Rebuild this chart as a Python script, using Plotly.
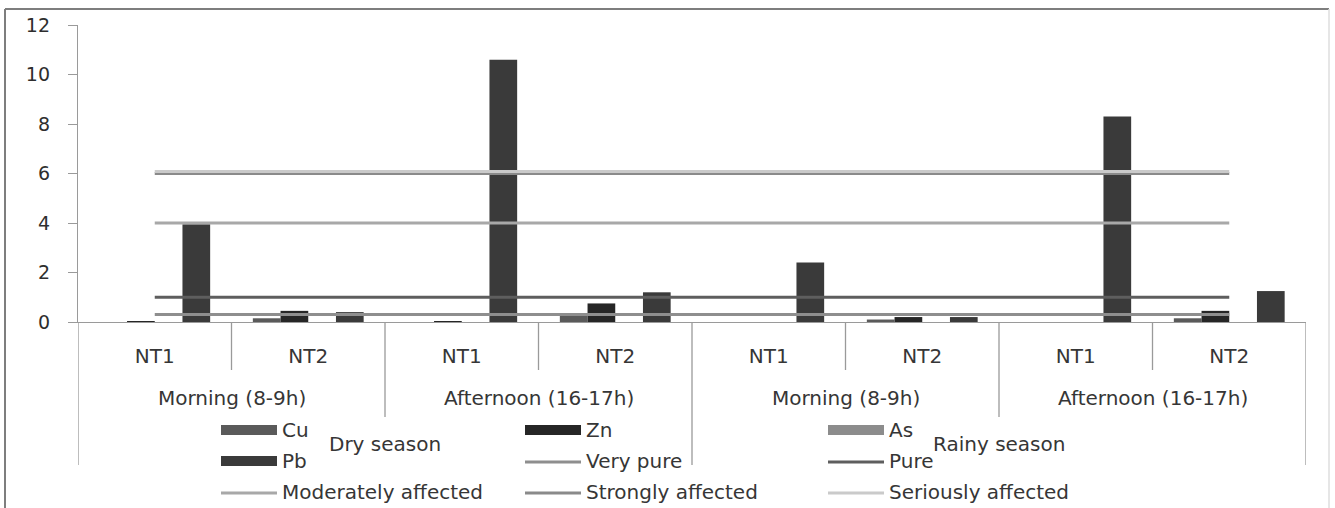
import plotly.graph_objects as go

# ---- data -------------------------------------------------------------
sites = ["NT1", "NT2", "NT1", "NT2", "NT1", "NT2", "NT1", "NT2"]
periods = ["Morning (8-9h)", "Afternoon (16-17h)", "Morning (8-9h)", "Afternoon (16-17h)"]
seasons = ["Dry season", "Rainy season"]

metals = ["Cu", "Zn", "As", "Pb"]
cu = [0.0, 0.15, 0.0, 0.30, 0.0, 0.10, 0.0, 0.15]
zn = [0.03, 0.45, 0.03, 0.75, 0.0, 0.20, 0.0, 0.45]
as_ = [0.0, 0.0, 0.0, 0.0, 0.0, 0.0, 0.0, 0.0]
pb = [3.95, 0.40, 10.6, 1.20, 2.40, 0.20, 8.30, 1.25]

levels = ["Very pure", "Pure", "Moderately affected", "Strongly affected", "Seriously affected"]
level_values = [0.3, 1.0, 4.0, 6.0, 6.08]

y_ticks = [0, 2, 4, 6, 8, 10, 12]

# ---- style ------------------------------------------------------------
W, H = 1335, 508
ML, MR, MT, MB = 78, 29, 25, 186
PW, PH = W - ML - MR, H - MT - MB
FONT = "DejaVu Sans"
TXT = "#363636"
AXC = "#9a9a9a"
FS = 20

bar_colors = ["#5a5a5a", "#262626", "#8c8c8c", "#3a3a3a"]
line_colors = ["#8e8e8e", "#5e5e5e", "#a8a8a8", "#8a8a8a", "#cacaca"]


def px_x(px):
    return (px - ML) / PW


def px_y(py):
    return (H - MB - py) / PH


x_idx = list(range(len(sites)))

fig = go.Figure()

for name, vals, col in zip(metals, [cu, zn, as_, pb], bar_colors):
    fig.add_trace(go.Bar(x=x_idx, y=vals, name=name, marker=dict(color=col, line_width=0)))

for name, val, col in zip(levels, level_values, line_colors):
    fig.add_trace(go.Scatter(x=x_idx, y=[val] * len(x_idx), name=name, mode="lines",
                             line=dict(color=col, width=3)))

shapes = []
annotations = []

# outer chart frame: darker top/left edges, faint right edge
shapes.append(dict(type="line", xref="paper", yref="paper",
                   x0=px_x(5), x1=px_x(1329), y0=px_y(9), y1=px_y(9),
                   line=dict(color="#7e7e7e", width=2)))
shapes.append(dict(type="line", xref="paper", yref="paper",
                   x0=px_x(5), x1=px_x(5), y0=px_y(9), y1=px_y(512),
                   line=dict(color="#7e7e7e", width=2)))
shapes.append(dict(type="line", xref="paper", yref="paper",
                   x0=px_x(1329), x1=px_x(1329), y0=px_y(9), y1=px_y(512),
                   line=dict(color="#dedede", width=1.5)))

# category dividers of the three-level axis (site / period / season)
n = len(sites)
for k in range(n + 1):
    xb = k - 0.5
    if k % 4 == 0:
        bottom = 465
    elif k % 2 == 0:
        bottom = 417
    else:
        bottom = 370
    shapes.append(dict(type="line", xref="x", yref="paper", x0=xb, x1=xb,
                       y0=px_y(bottom), y1=0, line=dict(color=AXC, width=1.3)))

# period labels
for j, p in enumerate(periods):
    annotations.append(dict(x=2 * j + 0.5, y=px_y(398), xref="x", yref="paper",
                            text=p, showarrow=False, xanchor="center", yanchor="middle",
                            font=dict(family=FONT, size=FS, color=TXT)))

# season labels
for j, s in enumerate(seasons):
    annotations.append(dict(x=4 * j + 1.5, y=px_y(444), xref="x", yref="paper",
                            text=s, showarrow=False, xanchor="center", yanchor="middle",
                            font=dict(family=FONT, size=FS, color=TXT)))

# legend: three columns, bars as wide blocks, levels as line swatches
entries = [(m, c, "bar") for m, c in zip(metals, bar_colors)] + \
          [(l, c, "line") for l, c in zip(levels, line_colors)]
col_x = [221, 525, 828]
row_y = [430, 461, 492]
sw = 56
for i, (name, col, kind) in enumerate(entries):
    cx = col_x[i % 3]
    ry = row_y[i // 3]
    if kind == "bar":
        shapes.append(dict(type="rect", xref="paper", yref="paper",
                           x0=px_x(cx), x1=px_x(cx + sw), y0=px_y(ry + 5), y1=px_y(ry - 5),
                           fillcolor=col, line_width=0))
    else:
        shapes.append(dict(type="line", xref="paper", yref="paper",
                           x0=px_x(cx), x1=px_x(cx + sw), y0=px_y(ry + 1), y1=px_y(ry + 1),
                           line=dict(color=col, width=3)))
    annotations.append(dict(x=px_x(cx + sw + 3), y=px_y(ry), xref="paper", yref="paper",
                            text=name, showarrow=False, xanchor="left", yanchor="middle",
                            font=dict(family=FONT, size=FS, color=TXT)))

fig.update_layout(
    width=W, height=H,
    margin=dict(l=ML, r=MR, t=MT, b=MB, pad=0),
    paper_bgcolor="#ffffff",
    plot_bgcolor="rgba(0,0,0,0)",
    barmode="group",
    bargap=0.278,
    bargroupgap=0,
    showlegend=False,
    shapes=shapes,
    annotations=annotations,
    xaxis=dict(range=[-0.5, n - 0.5], tickmode="array", tickvals=x_idx, ticktext=sites,
               showline=True, linecolor=AXC, linewidth=1.3, ticks="", showgrid=False,
               zeroline=False, ticklabelstandoff=16,
               tickfont=dict(family=FONT, size=FS, color=TXT)),
    yaxis=dict(range=[0, 12], tickmode="array", tickvals=y_ticks, showline=True,
               linecolor=AXC, linewidth=1.3, ticks="outside", ticklen=9, tickcolor=AXC,
               showgrid=False, zeroline=False, ticklabelstandoff=14,
               tickfont=dict(family=FONT, size=19, color="#2e2e2e")),
)

fig.write_html("out.html")
